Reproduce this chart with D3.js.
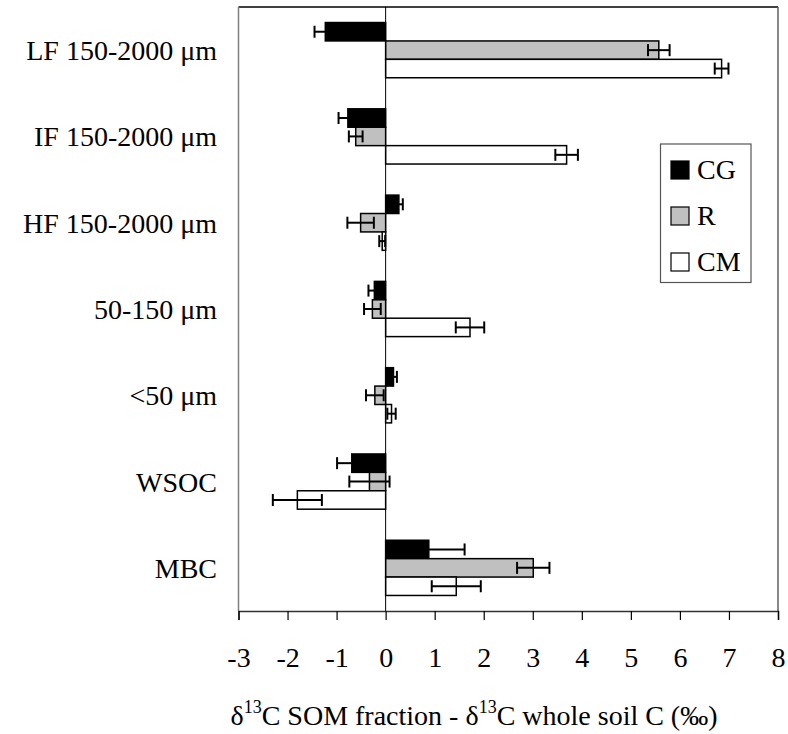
<!DOCTYPE html>
<html>
<head>
<meta charset="utf-8">
<script src="https://cdn.jsdelivr.net/npm/d3@7"></script>
<style>
  body { margin: 0; background: #fff; }
  text { font-family: "Liberation Serif", "Times New Roman", serif; fill: #000; }
</style>
</head>
<body>
<div id="chart"></div>
<script>
var categories = ["LF 150-2000 μm", "IF 150-2000 μm", "HF 150-2000 μm", "50-150 μm", "<50 μm", "WSOC", "MBC"];
var seriesNames = ["CG", "R", "CM"];
var cgValues = [-1.23, -0.77, 0.27, -0.23, 0.16, -0.69, 0.88];
var cgErrors = [0.22, 0.19, 0.08, 0.12, 0.07, 0.30, 0.73];
var rValues = [5.57, -0.61, -0.51, -0.27, -0.22, -0.33, 3.01];
var rErrors = [0.22, 0.14, 0.27, 0.17, 0.18, 0.41, 0.33];
var cmValues = [6.85, 3.69, -0.07, 1.72, 0.12, -1.80, 1.44];
var cmErrors = [0.14, 0.23, 0.06, 0.29, 0.085, 0.50, 0.50];
var xTicks = [-3, -2, -1, 0, 1, 2, 3, 4, 5, 6, 7, 8];

var w = 788, h = 734;
var plotLeft = 238.5, plotRight = 778, plotTop = 7, plotBottom = 611;
var fills = { CG: "#000", R: "#c0c0c0", CM: "#fff" };

var svg = d3.select("#chart").append("svg")
    .attr("width", w)
    .attr("height", h);

var x = d3.scaleLinear().domain([-3, 8]).range([plotLeft, plotRight]);
var y0 = d3.scaleBand().domain(categories).range([plotTop, plotBottom])
    .paddingInner(0.36).paddingOuter(0.18);
var y1 = d3.scaleBand().domain(seriesNames).range([0, y0.bandwidth()]);

// rows: one per bar
var vals = { CG: cgValues, R: rValues, CM: cmValues };
var errs = { CG: cgErrors, R: rErrors, CM: cmErrors };
var rows = [];
categories.forEach(function(c, i) {
    seriesNames.forEach(function(s) {
        rows.push({ cat: c, series: s, value: vals[s][i], err: errs[s][i] });
    });
});

// frame
svg.append("line").attr("x1", plotLeft).attr("x2", plotRight).attr("y1", plotTop).attr("y2", plotTop)
    .style("stroke", "#000").style("stroke-width", 1.5);
svg.append("line").attr("x1", plotLeft).attr("x2", plotLeft).attr("y1", plotTop).attr("y2", plotBottom)
    .style("stroke", "#808080").style("stroke-width", 1.5);
svg.append("line").attr("x1", plotRight).attr("x2", plotRight).attr("y1", plotTop).attr("y2", plotBottom)
    .style("stroke", "#606060").style("stroke-width", 1.5);

// bars
svg.selectAll("rect.bar")
    .data(rows)
    .enter()
    .append("rect")
    .attr("class", "bar")
    .attr("x", function(d) { return x(Math.min(0, d.value)); })
    .attr("y", function(d) { return y0(d.cat) + y1(d.series); })
    .attr("width", function(d) { return Math.abs(x(d.value) - x(0)); })
    .attr("height", y1.bandwidth())
    .style("fill", function(d) { return fills[d.series]; })
    .style("stroke", "#000")
    .style("stroke-width", 1.5);

// zero line
svg.append("line").attr("x1", x(0)).attr("x2", x(0)).attr("y1", plotTop).attr("y2", plotBottom)
    .style("stroke", "#000").style("stroke-width", 1);

// error bars
var eb = svg.selectAll("g.err")
    .data(rows)
    .enter()
    .append("g")
    .attr("class", "err")
    .attr("transform", function(d) { return "translate(0," + (y0(d.cat) + y1(d.series) + y1.bandwidth() / 2) + ")"; });
eb.append("line")
    .attr("x1", function(d) { return x(d.value - d.err); })
    .attr("x2", function(d) { return x(d.value + d.err); })
    .style("stroke", "#000").style("stroke-width", 2);
eb.append("line")
    .attr("x1", function(d) { return x(d.value - d.err); })
    .attr("x2", function(d) { return x(d.value - d.err); })
    .attr("y1", -6).attr("y2", 6)
    .style("stroke", "#000").style("stroke-width", 2);
eb.append("line")
    .attr("x1", function(d) { return x(d.value + d.err); })
    .attr("x2", function(d) { return x(d.value + d.err); })
    .attr("y1", -6).attr("y2", 6)
    .style("stroke", "#000").style("stroke-width", 2);

// x axis
var xAxis = svg.append("g")
    .attr("transform", "translate(0," + plotBottom + ")")
    .call(d3.axisBottom(x).tickValues(xTicks).tickSize(9).tickPadding(0)
        .tickFormat(function(d) { return String(d); }));
xAxis.select(".domain").style("stroke", "#333").style("stroke-width", 1.5);
xAxis.selectAll(".tick line").style("stroke", "#000").style("stroke-width", 1.2);
xAxis.selectAll(".tick text")
    .attr("y", 56).attr("dy", null)
    .style("font-family", "'Liberation Serif', 'Times New Roman', serif")
    .style("font-size", "28px")
    .style("fill", "#000");

// category labels
svg.selectAll("text.cat")
    .data(categories)
    .enter()
    .append("text")
    .attr("class", "cat")
    .attr("x", 217)
    .attr("y", function(d) { return y0(d) + y0.bandwidth() / 2 + 10; })
    .attr("text-anchor", "end")
    .style("font-size", "28px")
    .text(function(d) { return d; });

// x axis title
var title = svg.append("text")
    .attr("x", 474)
    .attr("y", 725)
    .attr("text-anchor", "middle")
    .style("font-size", "28px");
title.append("tspan").text("δ");
title.append("tspan").attr("dy", -12).style("font-size", "18px").text("13");
title.append("tspan").attr("dy", 12).text("C SOM fraction - δ");
title.append("tspan").attr("dy", -12).style("font-size", "18px").text("13");
title.append("tspan").attr("dy", 12).text("C whole soil C (‰)");

// legend
var legend = svg.append("g");
legend.append("rect")
    .attr("x", 660.5).attr("y", 144).attr("width", 90.5).attr("height", 138.5)
    .style("fill", "#fff").style("stroke", "#555").style("stroke-width", 1.2);
var items = legend.selectAll("g.item")
    .data(seriesNames)
    .enter()
    .append("g")
    .attr("class", "item")
    .attr("transform", function(d, i) { return "translate(671," + (161 + i * 46) + ")"; });
items.append("rect")
    .attr("width", 18).attr("height", 18)
    .style("fill", function(d) { return fills[d]; })
    .style("stroke", "#000").style("stroke-width", 1.2);
items.append("text")
    .attr("x", 26).attr("y", 18)
    .style("font-size", "28px")
    .text(function(d) { return d; });
</script>
</body>
</html>
